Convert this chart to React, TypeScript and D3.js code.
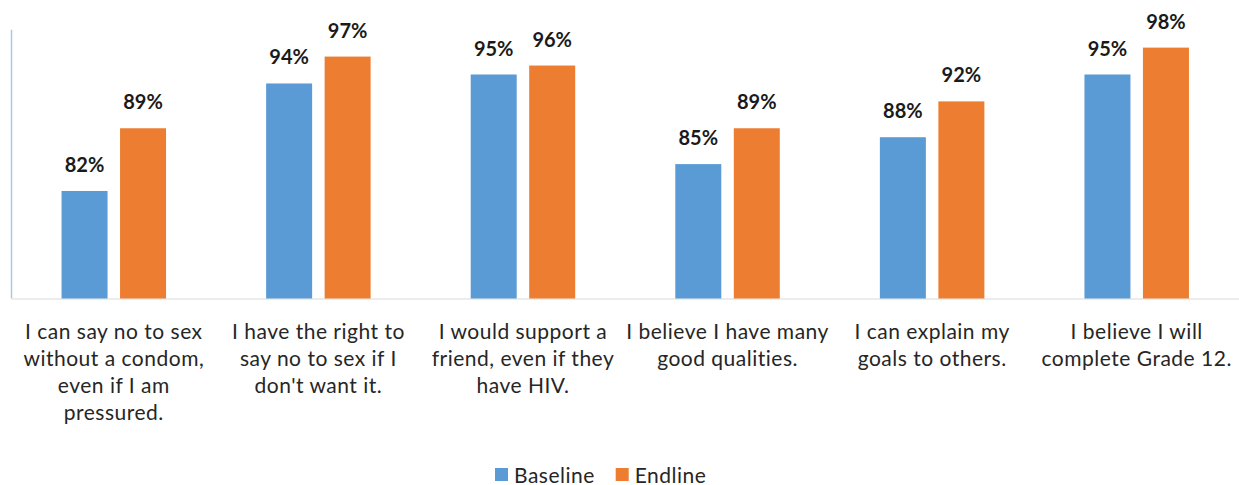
import React from "react";
import * as d3 from "d3";

const categories: string[][] = [
  ["I can say no to sex", "without a condom,", "even if I am", "pressured."],
  ["I have the right to", "say no to sex if I", "don't want it."],
  ["I would support a", "friend, even if they", "have HIV."],
  ["I believe I have many", "good qualities."],
  ["I can explain my", "goals to others."],
  ["I believe I will", "complete Grade 12."],
];
const baseline: number[] = [82, 94, 95, 85, 88, 95];
const endline: number[] = [89, 97, 96, 89, 92, 98];
const seriesNames: string[] = ["Baseline", "Endline"];
const colors: string[] = ["#5B9BD5", "#ED7D31"];

const W = 1239;
const H = 485;
const x0 = 11.5;
const x1 = 1239;
const yBottom = 298.5;
const yTop = 29.7;
const FONT = "Lato, 'Open Sans', sans-serif";

export default function App() {
  const idx = categories.map((_, i) => i);
  const xBand = d3.scaleBand<number>().domain(idx).range([x0, x1]).paddingInner(0).paddingOuter(0);
  const bw = xBand.bandwidth();
  const barW = 46;
  const gap = 12.5;
  const y = d3.scaleLinear().domain([70, 100]).range([yBottom, yTop]);
  const series = [baseline, endline];

  return (
    <svg
      width={W}
      height={H}
      style={{ position: "absolute", left: 0, top: 0, background: "#fff" }}
      fontFamily={FONT}
    >
      <line x1={x0} x2={x0} y1={yTop} y2={yBottom} stroke="#A9C8E8" strokeWidth={1.5} />
      <line x1={x0} x2={x1} y1={yBottom + 0.5} y2={yBottom + 0.5} stroke="#D9D9D9" strokeWidth={1.2} />
      {idx.map((i) => {
        const cx = (xBand(i) as number) + bw / 2;
        const start = cx - (2 * barW + gap) / 2;
        return (
          <g key={i}>
            {series.map((s, si) => {
              const bx = start + si * (barW + gap);
              const v = s[i];
              return (
                <g key={si}>
                  <rect x={bx} y={y(v)} width={barW} height={yBottom - y(v)} fill={colors[si]} />
                  <text
                    x={bx + barW / 2}
                    y={y(v) - 19}
                    textAnchor="middle"
                    fontSize={20}
                    fontWeight="bold"
                    fill="#1a1a1a"
                  >
                    {`${v}%`}
                  </text>
                </g>
              );
            })}
            {categories[i].map((line, li) => (
              <text
                key={li}
                x={cx}
                y={339.3 + li * 27}
                textAnchor="middle"
                fontSize={21}
                letterSpacing={0.5}
                fill="#262626"
              >
                {line}
              </text>
            ))}
          </g>
        );
      })}
      {seriesNames.map((name, si) => {
        const lx = [495, 615.7][si];
        return (
          <g key={name}>
            <rect x={lx} y={468} width={13} height={13} fill={colors[si]} />
            <text x={lx + 19} y={482.5} fontSize={21} letterSpacing={0.5} fill="#262626">
              {name}
            </text>
          </g>
        );
      })}
    </svg>
  );
}
